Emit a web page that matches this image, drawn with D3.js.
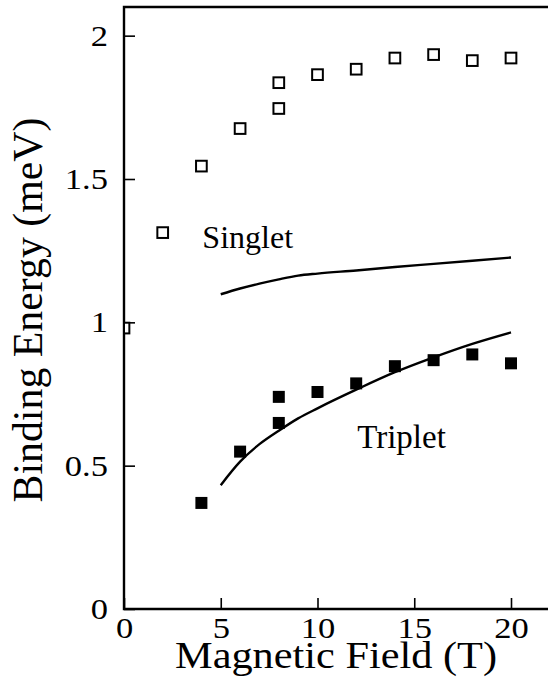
<!DOCTYPE html>
<html>
<head>
<meta charset="utf-8">
<script src="https://cdn.jsdelivr.net/npm/d3@7"></script>
<style>
  body { margin: 0; background: #fff; }
  svg { display: block; }
  text { font-family: "Liberation Serif", "Times New Roman", serif; fill: #000; }
</style>
</head>
<body>
<div id="chart"></div>
<script>
// Measured points (open squares = singlet, filled squares = triplet)
const singletFields = [0, 2, 4, 6, 8, 8, 10, 12, 14, 16, 18, 20]
const singletEnergy = [0.98, 1.313, 1.545, 1.676, 1.746, 1.836, 1.864, 1.883, 1.922, 1.934, 1.913, 1.922]

const tripletFields = [4, 6, 8, 8, 10, 12, 14, 16, 18, 20]
const tripletEnergy = [0.37, 0.549, 0.74, 0.649, 0.757, 0.787, 0.847, 0.868, 0.888, 0.857]

// Theory curves
const curveFields = [5, 6, 7, 8, 9, 10, 12, 14, 16, 18, 20]
const singletCurve = [1.098, 1.118, 1.135, 1.15, 1.163, 1.17, 1.181, 1.193, 1.204, 1.215, 1.226]
const tripletCurve = [0.432, 0.514, 0.575, 0.622, 0.665, 0.70, 0.765, 0.826, 0.878, 0.925, 0.965]

const xTicks = [0, 5, 10, 15, 20]
const yTicks = [0, 0.5, 1, 1.5, 2]

const width = 548, height = 694
const margin = { left: 124, top: 7, right: 0, bottom: 85 }

const svg = d3.select('#chart').append('svg')
  .attr('width', width)
  .attr('height', height)

const x = d3.scaleLinear()
  .domain([0, 22])
  .range([margin.left, margin.left + 22 * 19.35])

const y = d3.scaleLinear()
  .domain([0, 2.1])
  .range([height - margin.bottom, margin.top])

// stretch text horizontally to match the scanned lettering
const stretch = (sel, k) => {
  sel.each(function() {
    let len = this.getComputedTextLength()
    d3.select(this)
      .attr('textLength', len * k)
      .attr('lengthAdjust', 'spacingAndGlyphs')
  })
}

svg.append('clipPath')
  .attr('id', 'plot-clip')
  .append('rect')
  .attr('x', margin.left + 1)
  .attr('y', margin.top)
  .attr('width', width - margin.left)
  .attr('height', height - margin.bottom - margin.top)

// Axes
let xAxis = d3.axisBottom(x)
  .tickValues(xTicks)
  .tickSize(-11)
  .tickPadding(8)
  .tickFormat(d3.format('d'))

let gx = svg.append('g')
  .attr('transform', 'translate(0,' + y(0) + ')')
  .call(xAxis)

let yAxis = d3.axisLeft(y)
  .tickValues(yTicks)
  .tickSize(-11)
  .tickPadding(16)
  .tickFormat(d => d)

let gy = svg.append('g')
  .attr('transform', 'translate(' + x(0) + ',0)')
  .call(yAxis)

;[gx, gy].forEach(g => {
  g.select('.domain').remove()
  g.selectAll('.tick line').attr('stroke', '#000').attr('stroke-width', 1.6)
  g.selectAll('.tick text')
    .attr('fill', '#000')
    .style('font-family', '"Liberation Serif", serif')
    .style('font-size', '30px')
    .call(stretch, 1.15)
})

// Frame: left, bottom, top
svg.append('path')
  .attr('d', 'M' + width + ',' + y(2.1) + 'H' + x(0) + 'V' + y(0) + 'H' + width)
  .attr('fill', 'none')
  .attr('stroke', '#000')
  .attr('stroke-width', 2.4)

// Axis titles
svg.append('text')
  .attr('x', 336)
  .attr('y', 668)
  .attr('text-anchor', 'middle')
  .style('font-size', '37px')
  .attr('textLength', 322)
  .attr('lengthAdjust', 'spacingAndGlyphs')
  .text('Magnetic Field (T)')

svg.append('text')
  .attr('transform', 'translate(42,310) rotate(-90)')
  .attr('text-anchor', 'middle')
  .style('font-size', '42px')
  .attr('textLength', 385)
  .attr('lengthAdjust', 'spacingAndGlyphs')
  .text('Binding Energy (meV)')

let plot = svg.append('g').attr('clip-path', 'url(#plot-clip)')

// Theory lines
let line = d3.line()
  .x(d => x(d[0]))
  .y(d => y(d[1]))
  .curve(d3.curveMonotoneX)

plot.append('path')
  .datum(d3.zip(curveFields, singletCurve))
  .attr('d', line)
  .attr('fill', 'none')
  .attr('stroke', '#000')
  .attr('stroke-width', 2.4)

plot.append('path')
  .datum(d3.zip(curveFields, tripletCurve))
  .attr('d', line)
  .attr('fill', 'none')
  .attr('stroke', '#000')
  .attr('stroke-width', 2.4)

// Open squares
let openSize = 10.7
plot.selectAll('.singlet')
  .data(d3.zip(singletFields, singletEnergy))
  .join('rect')
  .attr('class', 'singlet')
  .attr('x', d => x(d[0]) - openSize / 2)
  .attr('y', d => y(d[1]) - openSize / 2)
  .attr('width', openSize)
  .attr('height', openSize)
  .attr('fill', '#fff')
  .attr('stroke', '#000')
  .attr('stroke-width', 2)

// Filled squares
let fillSize = 12
plot.selectAll('.triplet')
  .data(d3.zip(tripletFields, tripletEnergy))
  .join('rect')
  .attr('class', 'triplet')
  .attr('x', d => x(d[0]) - fillSize / 2)
  .attr('y', d => y(d[1]) - fillSize / 2)
  .attr('width', fillSize)
  .attr('height', fillSize)
  .attr('fill', '#000')

// Curve labels
svg.append('text')
  .attr('x', x(4.05))
  .attr('y', y(1.26))
  .style('font-size', '32px')
  .text('Singlet')

svg.append('text')
  .attr('x', x(12.05))
  .attr('y', y(0.56))
  .style('font-size', '33px')
  .text('Triplet')
</script>
</body>
</html>
